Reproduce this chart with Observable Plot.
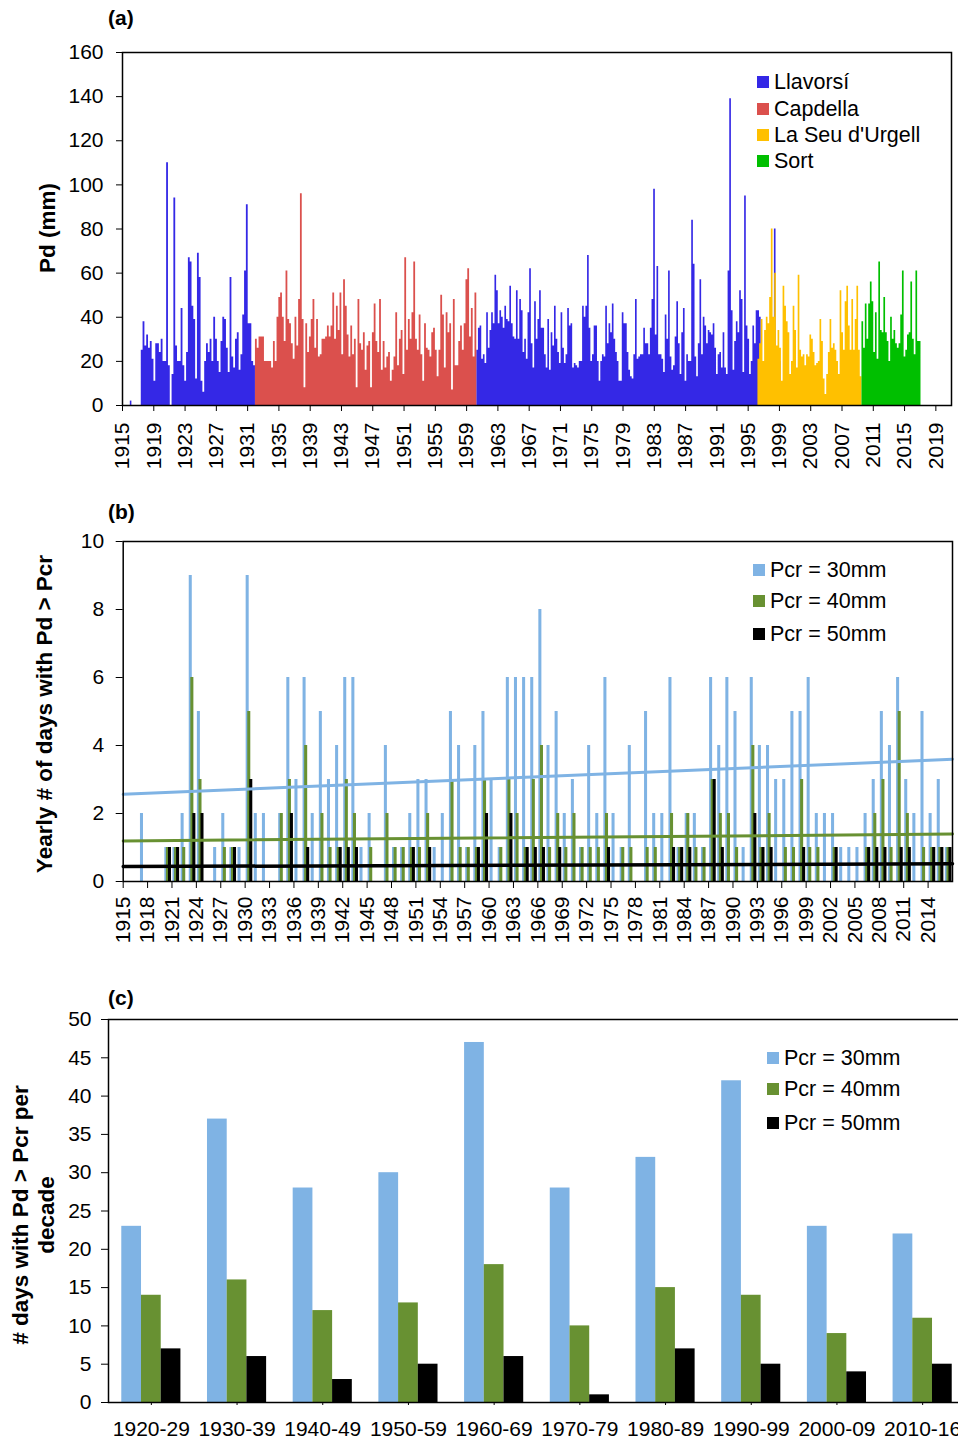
<!DOCTYPE html>
<html><head><meta charset="utf-8">
<script src="https://cdn.jsdelivr.net/npm/d3@7"></script>
<script src="https://cdn.jsdelivr.net/npm/@observablehq/plot@0.6"></script>
<style>
html,body{margin:0;padding:0;background:#fff;overflow:hidden}
#root{position:relative;width:958px;height:1443px;overflow:hidden;font-family:'Liberation Sans',Arial,sans-serif;color:#000;background:#fff}
.panel{position:absolute;left:0}
.tag{position:absolute;font-weight:bold;font-size:21px;line-height:24px}
.ytitle{position:absolute;font-weight:bold;font-size:22.5px;white-space:nowrap;transform:translate(-50%,-50%) rotate(-90deg);text-align:center;line-height:26px}
.leg{position:absolute;font-size:21.5px;white-space:nowrap;line-height:24px;transform:translateY(-50%)}
.sw{position:absolute;width:12px;height:12px;transform:translateY(-50%)}
svg line{stroke-width:1.5px}
</style></head>
<body>
<div id="root">
  <div class="panel" id="pa" style="top:0"></div>
  <div class="panel" id="pb" style="top:490px"></div>
  <div class="panel" id="pc" style="top:980px"></div>
</div>
<script>
const stations = ["Llavorsí", "Capdella", "La Seu d'Urgell", "Sort"];
const stationColors = ["#3428e6", "#db504d", "#ffc000", "#00bf00"];

const llavorsi0 = [2];
const llavorsi1 = [25,38,27,32,26,29,21,11,28,28,24,30,20,20,110,18,0,14,94,27,20,20,44,18,11,24,67,65,45,39,12,69,58,11,6,20,28,24,30,20,40,30,20,15,29,40,39,26,15,58,22,17,30,33,16,23,41,61,91,37,37,20,18];
const capdella = [30,26,31,31,31,20,20,20,20,17,29,20,40,49,51,40,29,61,39,37,28,21,40,27,48,96,39,8,37,24,31,39,48,26,39,22,23,30,30,31,36,31,36,51,30,45,34,51,23,57,45,32,22,36,23,30,8,48,28,25,33,16,27,29,8,33,46,29,24,48,16,29,17,22,24,
  11,16,22,42,18,30,34,14,67,25,39,30,42,65,30,25,41,23,11,37,26,25,22,33,35,25,13,25,50,41,17,42,33,37,7,48,18,18,29,36,25,37,57,62,31,44,22,51];
const llavorsi2 = [25,35,36,21,23,19,42,26,34,42,37,59,52,37,43,40,35,45,39,38,54,37,31,30,52,30,48,43,24,30,21,42,62,28,17,47,30,39,52,35,35,23,17,39,16,33,27,45,30,24,19,42,26,19,23,44,36,37,17,19,18,17,20,20,45,40,45,68,35,20,23,36,36,20,11,20,23,22,45,28,37,33,46,30,24,20,11,11,42,37,37,24,16,13,12,23,48,21,22,23,23,35,28,28,23,35,48,98,32,63,23,23,21,15,41,30,61,22,16,18,31,47,28,14,33,44,11,23,20,20,
  84,64,22,13,28,57,23,40,36,28,34,33,32,37,26,14,23,24,17,33,17,14,61,139,43,16,29,38,33,52,48,15,95,36,30,14,20,36,28,43,
  43,40,20,18,20,22,20,25,30,26,80,25,20,20];
const seu = [21,28,39,20,34,40,37,49,80,40,60,27,34,26,11,54,45,38,33,14,20,45,34,17,59,25,22,23,18,23,22,32,30,24,18,19,20,39,29,12,5,14,24,39,26,28,25,20,14,52,33,25,47,54,36,25,48,25,39,54,25,13];
const sort = [38,26,46,30,46,56,47,24,42,21,65,34,33,49,33,29,20,40,30,34,28,26,28,41,61,22,25,32,33,56,30,23,61,29,29];

const parts = [
  {station: "Llavorsí", start: 1916.0, end: 1916.2, values: llavorsi0},
  {station: "Llavorsí", start: 1917.4, end: 1932.0, values: llavorsi1},
  {station: "Capdella", start: 1932.0, end: 1960.3, values: capdella},
  {station: "Llavorsí", start: 1960.3, end: 1999.2, values: llavorsi2},
  {station: "La Seu d'Urgell", start: 1996.25, end: 2009.55, values: seu},
  {station: "Sort", start: 2009.55, end: 2017.1, values: sort}
];

// ---------- Panel (b): yearly number of days above thresholds ----------
const yearsB = d3.range(1915, 2017);
const n30 = [0,0,2,0,0,1,1,2,9,5, 0,1,2,1,1,9,2,2,0,2, 6,3,6,2,5,3,4,6,6,1, 2,0,4,1,1,2,3,3,1,2, 5,4,1,4,5,3,1,6,6,6, 6,8,4,5,2,3,1,4,2,6, 2,1,4,0,5,2,2,6,1,2, 2,1,6,4,6,5,1,6,4,4, 3,3,5,5,6,2,2,2,1,1, 1,2,3,5,4,6,3,2,5,2, 3,1];
const n40 = [0,0,0,0,0,1,1,1,6,3, 0,0,1,1,0,5,0,0,0,2, 3,0,4,0,2,1,1,3,2,0, 1,0,2,1,1,1,1,2,0,0, 3,1,1,1,3,0,1,3,2,1, 3,4,1,2,1,2,1,1,1,2, 0,1,1,0,1,1,0,2,1,2, 1,1,3,2,2,1,0,4,1,2, 0,1,1,3,1,1,0,1,0,0, 0,1,2,3,1,5,2,0,1,1, 1,1];
const n50 = [0,0,0,0,0,1,1,0,2,2, 0,0,0,1,0,3,0,0,0,0, 2,0,1,0,0,0,1,1,1,0, 0,0,0,0,0,1,0,1,0,0, 0,0,0,1,2,0,0,2,0,1, 1,1,0,1,0,0,0,0,0,1, 0,0,0,0,0,0,0,1,1,1, 0,0,3,1,0,0,0,2,1,1, 0,0,0,1,0,0,0,1,0,0, 0,1,1,1,0,1,1,0,0,1, 1,1];
const pcrLabels = ["Pcr = 30mm", "Pcr = 40mm", "Pcr = 50mm"];
const pcrColors = ["#7fb3e4", "#689132", "#000000"];

// ---------- Panel (c): decadal totals ----------
const decades = ["1920-29","1930-39","1940-49","1950-59","1960-69","1970-79","1980-89","1990-99","2000-09","2010-16"];
const c30 = [23,37,28,30,47,28,32,42,23,22];
const c40 = [14,16,12,13,18,10,15,14,9,11];
const c50 = [7,6,3,5,6,1,7,5,4,5];

// ---------- build ----------
const baseStyle = {fontFamily: "'Liberation Sans', Arial, sans-serif", fontSize: "21px", color: "#000", background: "transparent", maxWidth: "none", overflow: "visible"};

const rowsA = [];
parts.forEach((p, k) => {
  const step = (p.end - p.start) / p.values.length;
  p.values.forEach((v, i) => rowsA.push({part: k, station: p.station, t: p.start + i * step, v}));
  rowsA.push({part: k, station: p.station, t: p.end, v: p.values[p.values.length - 1]});
});

const plotA = Plot.plot({
  width: 958, height: 480, marginLeft: 122, marginRight: 7, marginTop: 52, marginBottom: 75,
  style: baseStyle,
  x: {domain: [1915, 2021], ticks: d3.range(1915, 2020, 4), tickFormat: d => String(d), tickRotate: -90, tickSize: 6, tickPadding: 11, label: null},
  y: {domain: [0, 160], ticks: d3.range(0, 161, 20), tickSize: 6, tickPadding: 13, label: null},
  marks: [
    ...stations.map((s, i) => Plot.areaY(rowsA.filter(r => r.station === s), {x: "t", y: "v", z: "part", fill: stationColors[i], curve: "step-after"})),
    Plot.frame({stroke: "#000", strokeWidth: 1.5})
  ]
});
document.getElementById("pa").append(plotA);

const bData = yearsB.map((y, i) => ({year: y, n30: n30[i], n40: n40[i], n50: n50[i]}));
function trend(key) {
  const xs = bData.map(d => d.year + 0.5), ys = bData.map(d => d[key]);
  const mx = d3.mean(xs), my = d3.mean(ys);
  const b = d3.sum(xs, (x, i) => (x - mx) * (ys[i] - my)) / d3.sum(xs, x => (x - mx) ** 2);
  const a = my - b * mx;
  return [1915, 2017].map(x => ({x, y: a + b * x}));
}
const insetsB = [[1.0, 4.1], [2.6, 2.5], [4.6, 0.5]];
const keysB = ["n30", "n40", "n50"];
const plotB = Plot.plot({
  width: 958, height: 470, marginLeft: 122.7, marginRight: 6, marginTop: 51, marginBottom: 79,
  style: baseStyle,
  x: {domain: [1915, 2017], ticks: d3.range(1915, 2015, 3), tickFormat: d => String(d), tickRotate: -90, tickSize: 7, tickPadding: 8, label: null},
  y: {domain: [0, 10], ticks: d3.range(0, 11, 2), tickSize: 7, tickPadding: 12, label: null},
  marks: [
    ...keysB.map((k, i) => Plot.rect(bData.filter(d => d[k] > 0), {x1: "year", x2: d => d.year + 1, y1: 0, y2: k, fill: pcrColors[i], insetLeft: insetsB[i][0], insetRight: insetsB[i][1]})),
    ...keysB.map((k, i) => Plot.line(trend(k), {x: "x", y: "y", stroke: pcrColors[i], strokeWidth: i === 2 ? 3.5 : 3})),
    Plot.frame({stroke: "#000", strokeWidth: 1.5})
  ]
});
document.getElementById("pb").append(plotB);

const cData = decades.map((d, i) => ({decade: d, n30: c30[i], n40: c40[i], n50: c50[i]}));
const plotC = Plot.plot({
  width: 973, height: 463, marginLeft: 108, marginRight: 8, marginTop: 39, marginBottom: 41,
  style: baseStyle,
  x: {domain: decades, paddingInner: 0.31, paddingOuter: 0.155, round: false, tickSize: 3, tickPadding: 16, label: null},
  y: {domain: [0, 50], ticks: d3.range(0, 51, 5), tickSize: 7, tickPadding: 10, label: null},
  marks: [
    Plot.barY(cData, {x: "decade", y: "n30", fill: pcrColors[0], insetRight: 39.4}),
    Plot.barY(cData, {x: "decade", y: "n40", fill: pcrColors[1], insetLeft: 19.7, insetRight: 19.7}),
    Plot.barY(cData, {x: "decade", y: "n50", fill: pcrColors[2], insetLeft: 39.4}),
    Plot.frame({stroke: "#000", strokeWidth: 1.5})
  ]
});
document.getElementById("pc").append(plotC);

// ---------- text overlays ----------
const root = document.getElementById("root");
function add(cls, text, css) {
  const el = document.createElement("div");
  el.className = cls;
  el.innerHTML = text;
  Object.assign(el.style, css);
  root.append(el);
  return el;
}
add("tag", "(a)", {left: "108px", top: "6px"});
add("tag", "(b)", {left: "108px", top: "500px"});
add("tag", "(c)", {left: "108px", top: "986px"});
add("ytitle", "Pd (mm)", {left: "48px", top: "228px"});
add("ytitle", "Yearly # of days with Pd &gt; Pcr", {left: "45px", top: "714px"});
add("ytitle", "# days with Pd &gt; Pcr per<br>decade", {left: "34px", top: "1215px"});

function legend(names, colors, rows, swLeft, txtLeft) {
  names.forEach((n, i) => {
    add("sw", "", {left: swLeft + "px", top: rows[i] + "px", background: colors[i]});
    add("leg", n.replace(/&/g, "&amp;"), {left: txtLeft + "px", top: rows[i] + "px"});
  });
}
legend(stations, stationColors, [82, 109, 135, 161], 757, 774);
legend(pcrLabels, pcrColors, [570, 601, 634], 753, 770);
legend(pcrLabels, pcrColors, [1058, 1089, 1123], 767, 784);
</script>
</body></html>
